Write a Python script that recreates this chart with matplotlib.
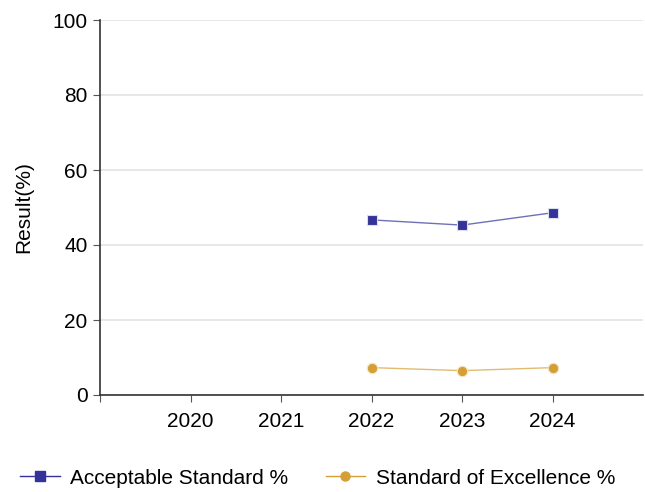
import matplotlib.pyplot as plt
from matplotlib.lines import Line2D

years = [2022, 2023, 2024]
tick_years = [2020, 2021, 2022, 2023, 2024]
acceptable = [46.7, 45.3, 48.6]
excellence = [7.3, 6.5, 7.3]

plt.rcParams['font.family'] = ['Liberation Sans', 'DejaVu Sans']

fig = plt.figure(figsize=(6.45, 4.92), dpi=100)
ax = fig.add_axes([100 / 645, 1 - 395 / 492, 543 / 645, 375 / 492])

# thin connecting lines, then markers on top
ax.plot(years, acceptable, color='#333399', lw=1, alpha=0.7, zorder=3)
ax.plot(years, acceptable, ls='none', marker='s', ms=7, color='#333399',
        mec='#ddddf0', mew=0.8, zorder=4)
ax.plot(years, excellence, color='#D4A035', lw=1, alpha=0.7, zorder=3)
ax.plot(years, excellence, ls='none', marker='o', ms=7.5, color='#D4A035',
        mec='#f5e6c8', mew=0.8, zorder=4)

ax.set_xlim(2019, 2025)
ax.set_ylim(0, 100)
ax.set_xticks([2019] + tick_years)
ax.set_xticklabels([''] + [str(y) for y in tick_years])
ax.set_yticks(range(0, 101, 20))
ax.yaxis.grid(True, color='#e3e3e3', lw=1.2)
ax.set_axisbelow(True)

for s in ['top', 'right']:
    ax.spines[s].set_visible(False)
for s in ['left', 'bottom']:
    ax.spines[s].set_color('#333333')
    ax.spines[s].set_linewidth(1.2)
ax.tick_params(axis='both', length=5, color='#555555', labelsize=15, pad=4)
ax.tick_params(axis='x', pad=7)
ax.set_ylabel('Result(%)', fontsize=15, labelpad=14)

handles = [
    Line2D([], [], color='#333399', lw=1, marker='s', ms=6.5),
    Line2D([], [], color='#D4A035', lw=1, marker='o', ms=6.5),
]
fig.legend(handles, ['Acceptable Standard %', 'Standard of Excellence %'],
           loc='center left', bbox_to_anchor=(20 / 645, 0.028), ncol=2, frameon=False,
           fontsize=15, handlelength=1.9, handletextpad=0.5, columnspacing=1.8,
           borderaxespad=0, borderpad=0)

fig.savefig('out.png', dpi=100)
